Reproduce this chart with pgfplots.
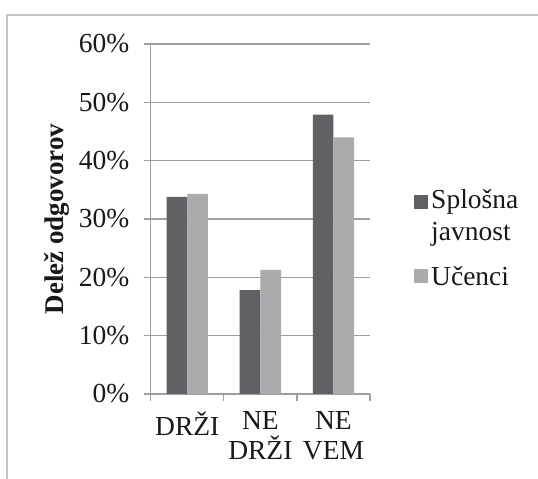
\documentclass[border=0pt]{standalone}
\usepackage{fontspec}
\setmainfont{Liberation Serif}
\usepackage{pgfplots}
\pgfplotsset{compat=1.18}
\definecolor{darkbar}{RGB}{96,97,101}
\definecolor{lightbar}{RGB}{170,171,173}
\definecolor{gridc}{RGB}{158,158,160}
\definecolor{framec}{RGB}{196,196,196}
\definecolor{txt}{RGB}{25,25,25}
\begin{document}
\begin{tikzpicture}
\begin{axis}[
  at={(150.7bp,85bp)}, anchor=south west,
  scale only axis, width=219.3bp, height=350bp,
  /pgf/number format/assume math mode=true,
  ybar=0pt, bar width=20.7bp,
  xmin=-0.5, xmax=2.5, ymin=0, ymax=60,
  axis x line*=bottom, axis y line*=left,
  axis line style={gridc, line width=1.2bp},
  ymajorgrids, grid style={gridc, line width=1.2bp},
  ytick={0,10,20,30,40,50,60},
  yticklabels={0\%,10\%,20\%,30\%,40\%,50\%,60\%},
  xtick={-0.5,0.5,1.5,2.5}, xticklabels={},
  extra x ticks={0,1,2},
  extra x tick labels={DRŽI,NE\\DRŽI,NE\\VEM},
  extra x tick style={tick style={draw=none}},
  tick align=outside, major tick length=7bp,
  tick style={gridc, line width=1.2bp},
  ticklabel style={font=\fontsize{27.5bp}{30bp}\selectfont, text=txt},
  xticklabel style={align=center, yshift=-7bp},
  yticklabel style={xshift=-11bp},
  ylabel={\bfseries Delež odgovorov},
  every axis y label/.style={at={([xshift=-93.7bp]axis description cs:0,0.5)}, rotate=90, anchor=center, font=\fontsize{27bp}{30bp}\selectfont, text=txt},
  legend style={at={(axis description cs:1.2007,0.594)}, anchor=north west, draw=none, fill=none,
    inner sep=0pt, row sep=18bp,
    nodes={inner sep=3bp, align=left, text=txt, font=\fontsize{27.5bp}{32bp}\selectfont}},
  legend cell align=left,
]
\addplot[fill=darkbar, draw=none,
  legend image code/.code={\fill[darkbar] (-3bp,7bp) rectangle (11bp,21bp);}]
  coordinates {(0,33.8) (1,17.8) (2,47.9)};
\addplot[fill=lightbar, draw=none,
  legend image code/.code={\fill[lightbar] (-3bp,-7bp) rectangle (11bp,7bp);}]
  coordinates {(0,34.3) (1,21.3) (2,44.0)};
\legend{Splošna\\javnost, Učenci}
\end{axis}
\draw[framec, line width=1.5bp] (7bp,-20bp) |- (600bp,464bp);
\pgfresetboundingbox
\path[use as bounding box] (0,0) rectangle (538bp,479bp);
\end{tikzpicture}
\end{document}
